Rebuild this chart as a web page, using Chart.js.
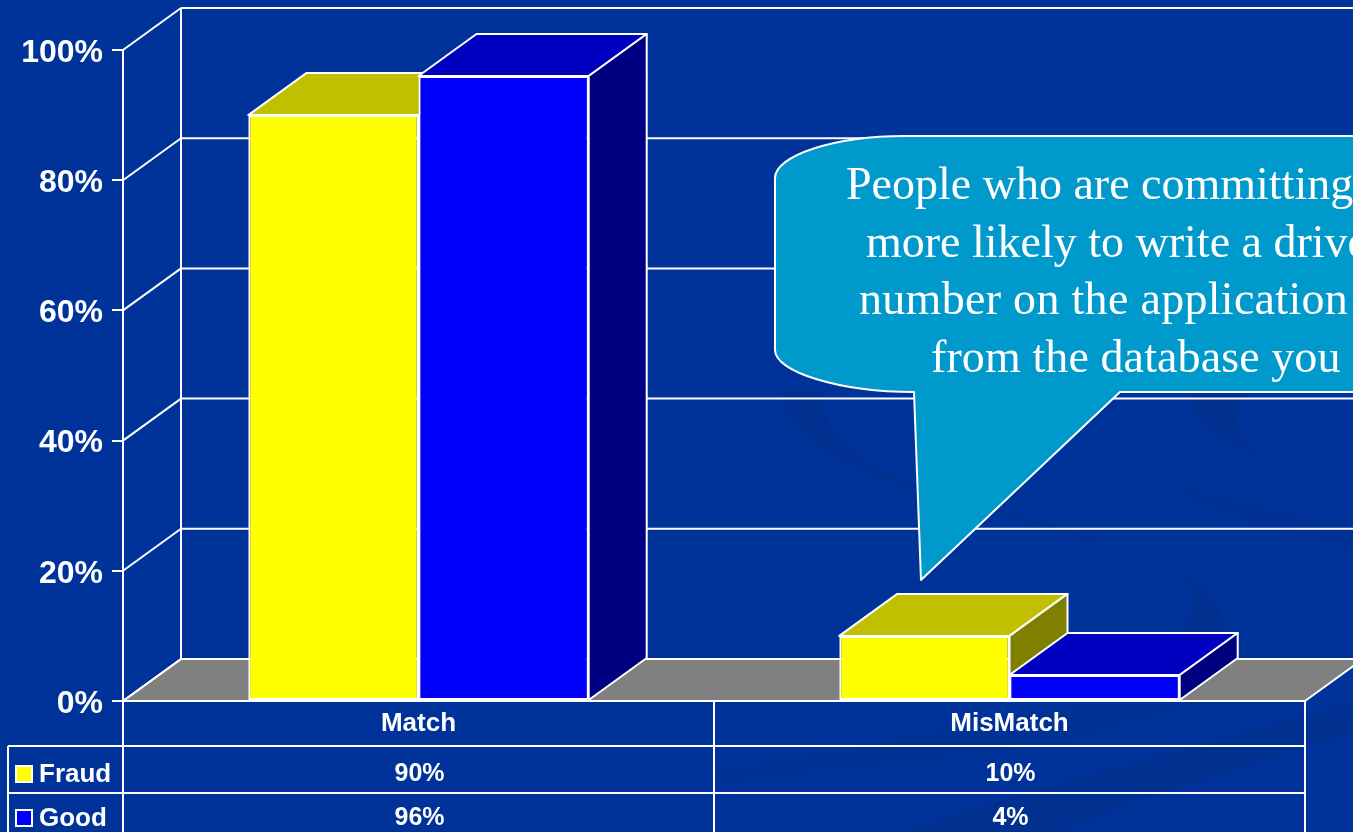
<!DOCTYPE html>
<html>
<head>
<meta charset="utf-8">
<title>Match / MisMatch</title>
<script src="https://cdn.jsdelivr.net/npm/chart.js@4"></script>
<style>
html, body { margin: 0; padding: 0; background: #003399; overflow: hidden; }
#wrap { width: 1353px; height: 832px; }
</style>
</head>
<body>
<div id="wrap"><canvas id="fraudChart" width="1353" height="832"></canvas></div>
<script>
const categories = ['Match', 'MisMatch'];
const fraudValues = [90, 10];
const goodValues = [96, 4];
const yTicks = [0, 20, 40, 60, 80, 100];
const calloutLines = ['People who are committing', 'more likely to write a drive', 'number on the application', 'from the database you'];

// depth of the fake 3d box
const depthX = 58;
const depthY = -42;
const white = '#ffffff';
const sansFamily = '"Liberation Sans", Arial, sans-serif';

function poly(ctx, pts, fill) {
    ctx.beginPath();
    pts.forEach((p, i) => i ? ctx.lineTo(p[0], p[1]) : ctx.moveTo(p[0], p[1]));
    ctx.closePath();
    if (fill) {
        ctx.fillStyle = fill;
        ctx.fill();
    }
    ctx.stroke();
}

function line(ctx, x1, y1, x2, y2) {
    ctx.beginPath();
    ctx.moveTo(x1, y1);
    ctx.lineTo(x2, y2);
    ctx.stroke();
}

function fillShape(ctx, pts) {
    ctx.beginPath();
    pts.forEach((p, i) => i ? ctx.lineTo(p[0], p[1]) : ctx.moveTo(p[0], p[1]));
    ctx.closePath();
    ctx.fill();
}

const backdrop = {
    id: 'backdrop',
    beforeDraw(chart) {
        const ctx = chart.ctx;
        ctx.save();
        ctx.fillStyle = '#003399';
        ctx.fillRect(0, 0, chart.width, chart.height);

        // darker swooshes in the slide background
        ctx.fillStyle = '#003090';
        fillShape(ctx, [[1353, 702], [1194, 747], [1058, 783], [900, 832], [1060, 832], [1146, 797], [1353, 733]]);

        // crescent running under the callout down to the right
        ctx.beginPath();
        ctx.moveTo(781, 390);
        ctx.bezierCurveTo(785, 430, 830, 465, 911, 487);
        ctx.bezierCurveTo(980, 505, 1110, 545, 1188, 577);
        ctx.bezierCurveTo(1215, 592, 1225, 615, 1222, 640);
        ctx.lineTo(1170, 640);
        ctx.bezierCurveTo(1195, 620, 1205, 590, 1177, 573);
        ctx.bezierCurveTo(1110, 540, 980, 503, 911, 483);
        ctx.bezierCurveTo(860, 465, 815, 430, 826, 390);
        ctx.closePath();
        ctx.fill();

        // second curl on the right
        ctx.beginPath();
        ctx.moveTo(1188, 390);
        ctx.bezierCurveTo(1188, 420, 1230, 445, 1271, 462);
        ctx.lineTo(1264, 457);
        ctx.bezierCurveTo(1235, 440, 1225, 415, 1252, 390);
        ctx.closePath();
        ctx.fill();

        // fainter streaks
        ctx.fillStyle = '#003296';
        fillShape(ctx, [[1173, 497], [1188, 487], [1353, 527], [1353, 553]]);
        fillShape(ctx, [[1087, 703], [1200, 703], [1060, 745], [722, 785], [715, 770]]);
        ctx.restore();
    }
};

// back wall, floor and side wall of the box, then top and side faces of the bars
const walls = {
    id: 'walls',
    beforeDatasetsDraw(chart) {
        const ctx = chart.ctx;
        const { left, right, bottom } = chart.chartArea;
        const y = chart.scales.y;
        ctx.save();
        ctx.strokeStyle = white;
        ctx.lineWidth = 2;
        ctx.lineJoin = 'round';
        const backLeft = left + depthX;
        poly(ctx, [[left, bottom], [backLeft, bottom + depthY], [right + depthX, bottom + depthY], [right, bottom]], '#808080');
        yTicks.forEach(v => {
            const py = y.getPixelForValue(v);
            line(ctx, left, py, backLeft, py + depthY);
            line(ctx, backLeft, py + depthY, right + depthX, py + depthY);
        });
        line(ctx, backLeft, y.getPixelForValue(100) + depthY, backLeft, bottom + depthY);

        // Fraud first so the Good faces lie over its side
        chart.data.datasets.forEach((ds, i) => {
            chart.getDatasetMeta(i).data.forEach(bar => {
                const l = bar.x - bar.width / 2;
                const r = bar.x + bar.width / 2;
                poly(ctx, [[l, bar.y], [l + depthX, bar.y + depthY], [r + depthX, bar.y + depthY], [r, bar.y]], ds.topColor);
                poly(ctx, [[r, bar.y], [r + depthX, bar.y + depthY], [r + depthX, bar.base + depthY], [r, bar.base]], ds.sideColor);
            });
        });
        ctx.restore();
    }
};

const dataTable = {
    id: 'dataTable',
    afterDatasetsDraw(chart) {
        const ctx = chart.ctx;
        const { left, right, bottom } = chart.chartArea;
        const x = chart.scales.x;
        const rows = [746, 793];
        const tableLeft = 8;
        const mid = (left + right) / 2;
        ctx.save();
        ctx.strokeStyle = white;
        ctx.lineWidth = 2;
        line(ctx, left, bottom, right, bottom);
        rows.forEach(r => line(ctx, tableLeft, r, right, r));
        line(ctx, left, bottom, left, chart.height);
        line(ctx, mid, bottom, mid, chart.height);
        line(ctx, right, bottom, right, chart.height);
        line(ctx, tableLeft, rows[0], tableLeft, chart.height);

        ctx.textBaseline = 'alphabetic';
        chart.data.datasets.forEach((ds, i) => {
            const base = [782, 826][i];
            ctx.font = 'bold 26px ' + sansFamily;
            ctx.textAlign = 'left';
            ctx.fillStyle = white;
            ctx.fillText(ds.label, 39, base);
            ctx.fillStyle = ds.backgroundColor;
            ctx.fillRect(16, base - 16, 16, 16);
            ctx.strokeRect(16, base - 16, 16, 16);
            ctx.font = 'bold 25px ' + sansFamily;
            ctx.fillStyle = white;
            ctx.textAlign = 'center';
            ds.data.forEach((v, j) => ctx.fillText(v + '%', x.getPixelForValue(j) + 1, base - 1));
        });
        ctx.restore();
    }
};

const callout = {
    id: 'callout',
    afterDraw(chart) {
        const ctx = chart.ctx;
        ctx.save();
        ctx.strokeStyle = white;
        ctx.lineWidth = 2;
        ctx.lineJoin = 'round';
        ctx.fillStyle = '#0099cc';
        ctx.beginPath();
        ctx.moveTo(1400, 136);
        ctx.lineTo(905, 136);
        ctx.bezierCurveTo(833, 136, 775, 156, 775, 178);
        ctx.lineTo(775, 350);
        ctx.bezierCurveTo(775, 372, 840, 392, 914, 392);
        ctx.lineTo(921, 580);
        ctx.lineTo(1120, 392);
        ctx.lineTo(1400, 392);
        ctx.closePath();
        ctx.fill();
        ctx.stroke();

        ctx.fillStyle = white;
        ctx.font = '46px "Liberation Serif", serif';
        ctx.textAlign = 'left';
        ctx.textBaseline = 'alphabetic';
        const starts = [846, 866, 859, 931];
        const spacing = ['0px', '0px', '0.3px', '0.1px'];
        calloutLines.forEach((t, i) => {
            ctx.letterSpacing = spacing[i];
            ctx.fillText(t, starts[i], 199 + i * 57.7);
        });
        ctx.restore();
    }
};

new Chart(document.getElementById('fraudChart'), {
    type: 'bar',
    data: {
        labels: categories,
        datasets: [
            { label: 'Fraud', data: fraudValues, backgroundColor: '#ffff00', topColor: '#c0c000', sideColor: '#808000', borderColor: white, borderWidth: 2, borderSkipped: false },
            { label: 'Good', data: goodValues, backgroundColor: '#0000ff', topColor: '#0000c0', sideColor: '#000080', borderColor: white, borderWidth: 2, borderSkipped: false }
        ]
    },
    options: {
        responsive: false,
        animation: false,
        layout: { padding: { top: 50, right: 48, left: 0, bottom: 0 } },
        datasets: { bar: { categoryPercentage: 0.576, barPercentage: 1 } },
        plugins: { legend: { display: false }, tooltip: { enabled: false } },
        scales: {
            x: {
                grid: { display: false },
                border: { display: false },
                afterFit(scale) { scale.height = 131; },
                ticks: { color: white, padding: 2, font: { family: sansFamily, size: 26, weight: 'bold', lineHeight: 1 } }
            },
            y: {
                min: 0,
                max: 100,
                afterFit(scale) { scale.width = 123; },
                afterBuildTicks(scale) { scale.ticks = yTicks.map(v => ({ value: v })); },
                grid: { drawOnChartArea: false, color: white, lineWidth: 2, tickLength: 11 },
                border: { color: white, width: 2 },
                ticks: {
                    color: white,
                    padding: 9,
                    labelOffset: 3,
                    font: { family: sansFamily, size: 32, weight: 'bold' },
                    callback: v => v + '%'
                }
            }
        }
    },
    plugins: [backdrop, walls, dataTable, callout]
});
</script>
</body>
</html>
